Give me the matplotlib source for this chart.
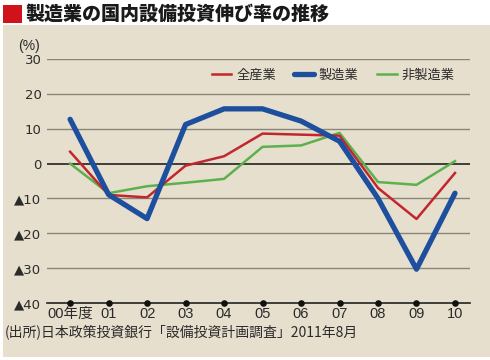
import matplotlib
matplotlib.use("Agg")
from matplotlib import pyplot as plt
from matplotlib.patches import Rectangle

plt.rcParams['font.family'] = ['Noto Sans CJK JP', 'DejaVu Sans']
num_font = ['Liberation Sans', 'Noto Sans CJK JP', 'DejaVu Sans']
tri_font = ['DejaVu Sans']

# ______________________________________________________________________________
# Data (前年度比, %)

years = ["00年度", "01", "02", "03", "04", "05", "06", "07", "08", "09", "10"]
all_industry = [3.4, -9.0, -9.7, -0.6, 2.1, 8.6, 8.3, 8.0, -7.0, -15.9, -2.7]
manufacturing = [12.7, -8.9, -15.8, 11.2, 15.7, 15.7, 12.2, 6.4, -10.0, -30.3, -8.5]
non_manufacturing = [0.0, -8.5, -6.5, -5.5, -4.4, 4.8, 5.2, 8.8, -5.3, -6.1, 0.7]
y_ticks = [30, 20, 10, 0, -10, -20, -30, -40]
y_labels = ["30", "20", "10", "0", "▲10", "▲20", "▲30", "▲40"]

red = "#c1272d"
blue = "#1d4f9e"
green = "#5cb04d"
beige = "#e6dfcd"
text_color = "#2b2b2b"

# ______________________________________________________________________________

fig = plt.figure(figsize=(4.9, 3.6), dpi=100)
fig.patch.set_facecolor("white")

# beige panel and title
fig.patches.append(Rectangle((3 / 490, 1 - 357 / 360), 487 / 490, 332 / 360,
                             transform=fig.transFigure, facecolor=beige, edgecolor="none", zorder=-2))
fig.patches.append(Rectangle((3 / 490, 1 - 23 / 360), 19 / 490, 18 / 360,
                             transform=fig.transFigure, facecolor="#d0121b", edgecolor="none", zorder=-1))
fig.text(25 / 490, 1 - 14 / 360, "製造業の国内設備投資伸び率の推移", fontsize=13.7, fontweight="black",
         color="#1a1a1a", va="center", ha="left")

ax = fig.add_axes([47 / 490, 1 - 303 / 360, 423 / 490, 244 / 360])
ax.set_facecolor("none")
x = list(range(len(years)))

for t in y_ticks:
    if t == -40:
        continue
    ax.axhline(t, color="#111111" if t == 0 else "#8a857a", linewidth=1.1 if t == 0 else 1.0, zorder=1)
ax.axhline(-40, color="#222222", linewidth=1.2, zorder=1, clip_on=False)
ax.scatter(x, [-40] * len(x), s=14, color="#111111", zorder=5, clip_on=False)

ax.plot(x, non_manufacturing, color=green, linewidth=1.8, label="非製造業", zorder=3)
ax.plot(x, all_industry, color=red, linewidth=1.8, label="全産業", zorder=3)
ax.plot(x, manufacturing, color=blue, linewidth=3.8, label="製造業", zorder=4, solid_capstyle="round")

ax.set_xlim(-0.6, 10.39)
ax.set_ylim(-40, 30)
ax.set_yticks(y_ticks)
ax.set_yticklabels(y_labels, family=tri_font, fontsize=9.5)
ax.set_xticks(x)
ax.set_xticklabels(years, family=num_font, fontsize=10.5)
ax.tick_params(length=0, colors=text_color, pad=4)
ax.tick_params(axis="x", pad=3)
for s in ax.spines.values():
    s.set_visible(False)

fig.text(29 / 490, 1 - 46 / 360, "(%)", fontsize=10, color=text_color, ha="center", va="center",
         family=num_font)

handles, labels = ax.get_legend_handles_labels()
order = [1, 2, 0]
ax.legend([handles[i] for i in order], [labels[i] for i in order], ncol=3, frameon=False,
          loc="center", bbox_to_anchor=(0.676, 0.934), fontsize=9.5, handlelength=1.5,
          handletextpad=0.35, columnspacing=1.4, labelcolor=text_color)

fig.text(5 / 490, 1 - 332 / 360, "(出所)日本政策投資銀行「設備投資計画調査」2011年8月", fontsize=10,
         color=text_color, ha="left", va="center")

plt.savefig("out.png", dpi=100)
